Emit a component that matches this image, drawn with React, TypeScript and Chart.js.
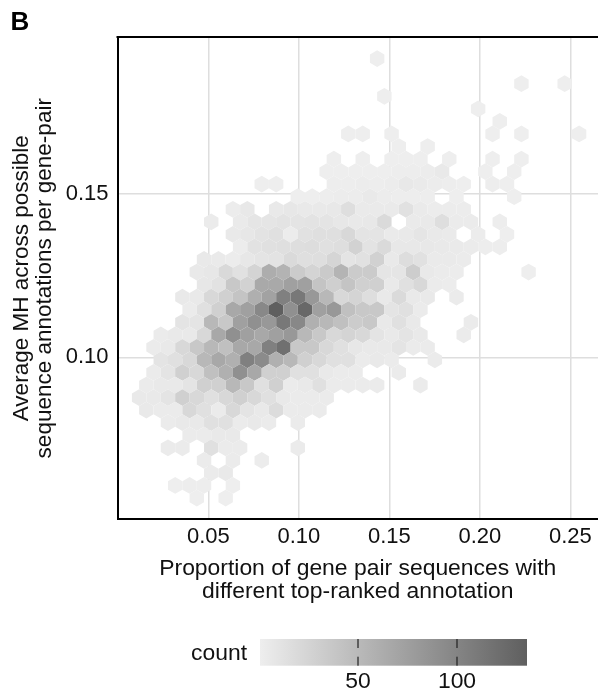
import React, { useEffect, useRef } from "react";
import { Chart, registerables, ScatterController, PointElement } from "chart.js";

// Hexbin rows, top to bottom. rowFirstCol = first hex column of the row, 0 = empty cell.
const rowFirstCol = [18, 0, 28, 18, 25, 26, 16, 19, 15, 14, 10, 12, 8, 6, 8, 8, 6, 5, 6, 4, 5, 4, 3, 2, 3, 2, 2, 1, 2, 3, 5, 3, 6, 6, 4, 5];
const rowCounts = [
  [1],
  [],
  [1, 0, 0, 1],
  [1],
  [1],
  [1],
  [1, 1, 0, 1, 0, 0, 0, 0, 0, 0, 1, 0, 1, 0, 0, 0, 1],
  [1, 0, 1],
  [1, 0, 1, 0, 1, 1, 1, 0, 1, 0, 0, 1, 0, 1],
  [1, 1, 1, 1, 1, 2, 2, 3, 6, 0, 0, 1, 0, 1],
  [1, 1, 0, 0, 0, 2, 2, 3, 2, 3, 7, 5, 3, 2, 1, 0, 2, 1],
  [1, 1, 2, 3, 3, 6, 3, 2, 2, 2, 0, 1, 0, 0, 0, 1],
  [3, 7, 0, 6, 8, 6, 6, 7, 16, 5, 5, 5, 13, 5, 3, 3, 3],
  [4, 0, 5, 9, 9, 11, 10, 11, 10, 8, 6, 7, 20, 0, 5, 6, 16, 4, 4, 0, 2],
  [6, 8, 11, 14, 3, 13, 15, 15, 22, 10, 10, 5, 6, 9, 6, 5, 0, 3, 0, 1],
  [3, 12, 14, 15, 16, 17, 14, 16, 27, 11, 20, 7, 7, 7, 6, 5, 4, 2, 2],
  [6, 5, 3, 8, 10, 11, 20, 15, 16, 24, 10, 13, 28, 6, 17, 13, 5, 5, 4],
  [6, 8, 21, 13, 25, 62, 56, 34, 25, 35, 55, 34, 34, 9, 9, 32, 6, 4, 3, 0, 0, 0, 0, 1],
  [8, 12, 37, 27, 66, 66, 74, 74, 40, 30, 40, 29, 29, 6, 14, 22, 4, 3],
  [6, 6, 22, 29, 40, 60, 72, 104, 112, 82, 52, 22, 25, 16, 6, 20, 6, 6, 0, 4],
  [4, 14, 29, 67, 74, 97, 135, 89, 127, 74, 82, 44, 37, 37, 10, 14, 4],
  [10, 10, 52, 37, 74, 89, 82, 112, 97, 59, 52, 44, 33, 37, 6, 14, 6, 0, 0, 0, 4],
  [4, 6, 6, 22, 67, 89, 74, 67, 74, 82, 52, 37, 22, 25, 22, 10, 6, 10, 6, 0, 0, 4],
  [4, 6, 22, 37, 52, 44, 67, 67, 104, 119, 37, 37, 22, 14, 8, 6, 6, 10, 4, 4],
  [10, 14, 22, 52, 67, 59, 104, 94, 59, 52, 29, 22, 14, 14, 4, 6, 4, 0, 0, 4],
  [4, 10, 29, 22, 44, 59, 89, 67, 29, 29, 14, 14, 6, 4, 4, 0, 0, 4],
  [4, 6, 6, 10, 29, 29, 52, 37, 14, 29, 4, 6, 14, 4, 4, 4, 4, 0, 0, 4],
  [6, 6, 10, 29, 22, 14, 22, 29, 22, 14, 6, 4, 4, 4],
  [6, 4, 4, 22, 14, 4, 22, 10, 6, 18, 4, 4, 4],
  [4, 6, 6, 14, 14, 4, 6, 4, 0, 4],
  [4, 4, 6, 6],
  [4, 4, 0, 14, 4, 4, 0, 0, 0, 4],
  [4, 0, 4, 0, 3],
  [4, 6],
  [1, 2, 2, 0, 1],
  [1, 0, 1],
];

const hexOriginX = -0.00018;
const hexStepX = 0.00797;
const hexOriginY = 0.19143;
const hexStepY = 0.003843;

const xTicks = [0.05, 0.1, 0.15, 0.2, 0.25];
const yTicks = [0.1, 0.15];
const xTitle = ["Proportion of gene pair sequences with", "different top-ranked annotation"];
const yTitle = ["Average MH across possible", "sequence annotations per gene-pair"];
const panelLabel = "B";
const legendTitle = "count";
const legendTicks = [50, 100];
const countMin = 1;
const countMax = 135;
const lowGray = 238;
const highGray = 95;

const FONT = '"Liberation Sans", Arial, sans-serif';
const INK = "#111";

const grayFor = (c: number) => {
  const g = Math.round(lowGray + ((c - countMin) / (countMax - countMin)) * (highGray - lowGray));
  return `rgb(${g},${g},${g})`;
};

const points: { x: number; y: number; count: number }[] = [];
rowCounts.forEach((row, r) => {
  row.forEach((count, i) => {
    if (!count) return;
    const col = rowFirstCol[r] + i + (r % 2 ? 0.5 : 0);
    points.push({ x: hexOriginX + col * hexStepX, y: hexOriginY - r * hexStepY, count });
  });
});

class HexPoint extends PointElement {
  static id = "hexPoint";
  static defaults = { ...PointElement.defaults, halfW: 7, radiusY: 8 };
  draw(ctx: CanvasRenderingContext2D) {
    const o: any = this.options;
    const { x, y } = this as any;
    ctx.save();
    ctx.fillStyle = o.backgroundColor;
    ctx.beginPath();
    ctx.moveTo(x, y - o.radiusY);
    ctx.lineTo(x + o.halfW, y - o.radiusY / 2);
    ctx.lineTo(x + o.halfW, y + o.radiusY / 2);
    ctx.lineTo(x, y + o.radiusY);
    ctx.lineTo(x - o.halfW, y + o.radiusY / 2);
    ctx.lineTo(x - o.halfW, y - o.radiusY / 2);
    ctx.closePath();
    ctx.fill();
    ctx.restore();
  }
}

class HexController extends ScatterController {
  static id = "hexScatter";
  static defaults = { ...ScatterController.defaults, dataElementType: "hexPoint" };
}

Chart.register(...registerables, HexPoint, HexController);

const decorations = {
  id: "decorations",
  afterDraw(chart: any) {
    const { ctx, chartArea } = chart;
    ctx.save();
    // top frame line
    ctx.fillStyle = "#000";
    ctx.fillRect(chartArea.left - 1, chartArea.top - 1.5, chartArea.right - chartArea.left + 1, 2);
    // panel label
    ctx.font = `bold 26px ${FONT}`;
    ctx.textAlign = "left";
    ctx.textBaseline = "alphabetic";
    ctx.fillText(panelLabel, 10.5, 30);
    // colour bar
    const barL = 260;
    const barR = 527;
    const barT = 639;
    const barB = 665.7;
    const pxPerCount = (457 - 358) / (legendTicks[1] - legendTicks[0]);
    const countToX = (c: number) => 358 + (c - legendTicks[0]) * pxPerCount;
    const grad = ctx.createLinearGradient(barL, 0, barR, 0);
    grad.addColorStop(0, grayFor(countMin));
    grad.addColorStop(1, grayFor(countMax));
    ctx.fillStyle = grad;
    ctx.fillRect(barL, barT, barR - barL, barB - barT);
    ctx.font = `22.9px ${FONT}`;
    ctx.textAlign = "center";
    legendTicks.forEach((t) => {
      const x = countToX(t);
      ctx.fillStyle = "#222";
      ctx.fillRect(x - 0.6, barT, 1.2, 9);
      ctx.fillRect(x - 0.6, barB - 9, 1.2, 9);
      ctx.fillStyle = INK;
      ctx.fillText(String(t), x, 688);
    });
    ctx.textAlign = "right";
    ctx.fillText(legendTitle, 247, 660);
    ctx.restore();
  },
};

export default function App() {
  const ref = useRef<HTMLCanvasElement>(null);
  useEffect(() => {
    const chart = new Chart(ref.current as HTMLCanvasElement, {
      type: "hexScatter" as any,
      plugins: [decorations],
      data: {
        datasets: [
          {
            data: points,
            backgroundColor: (c: any) => grayFor(c.raw ? c.raw.count : countMin),
            halfW: (c: any) => {
              const s = c.chart.scales.x;
              return Math.abs(s.getPixelForValue(hexStepX) - s.getPixelForValue(0)) / 2;
            },
            radiusY: (c: any) => {
              const s = c.chart.scales.y;
              return (Math.abs(s.getPixelForValue(hexStepY) - s.getPixelForValue(0)) * 2) / 3;
            },
          } as any,
        ],
      },
      options: {
        responsive: false,
        animation: false,
        layout: { autoPadding: false, padding: { top: 37.5, left: 0, right: 0, bottom: 0 } },
        plugins: { legend: { display: false }, tooltip: { enabled: false } },
        scales: {
          x: {
            type: "linear",
            min: -0.00017,
            max: 0.2653,
            afterBuildTicks: (s: any) => {
              s.ticks = xTicks.map((value) => ({ value }));
            },
            afterFit: (s: any) => {
              s.height = 174;
            },
            border: { color: "#000", width: 2, display: true },
            grid: { color: "#dedede", lineWidth: 1.5, drawTicks: false },
            ticks: {
              color: INK,
              padding: 5,
              maxRotation: 0,
              autoSkip: false,
              font: { family: FONT, size: 22 },
              callback: (v: any) => Number(v).toFixed(2),
            },
            title: {
              display: true,
              text: xTitle,
              color: INK,
              font: { family: FONT, size: 22.9, lineHeight: 1.0 },
              padding: { top: 0, bottom: 90 },
            },
          },
          y: {
            type: "linear",
            min: 0.0505,
            max: 0.1979,
            afterBuildTicks: (s: any) => {
              s.ticks = yTicks.map((value) => ({ value }));
            },
            afterFit: (s: any) => {
              s.width = 117.5;
            },
            border: { color: "#000", width: 2, display: true },
            grid: { color: "#dedede", lineWidth: 1.5, drawTicks: false },
            ticks: {
              color: INK,
              padding: 9,
              autoSkip: false,
              font: { family: FONT, size: 22 },
              callback: (v: any) => Number(v).toFixed(2),
            },
            title: {
              display: true,
              text: yTitle,
              color: INK,
              font: { family: FONT, size: 22.5, lineHeight: 1.0 },
              padding: { top: 11, bottom: 0 },
            },
          },
        },
      },
    } as any);
    return () => chart.destroy();
  }, []);
  return (
    <canvas
      ref={ref}
      width={598}
      height={693}
      style={{ position: "fixed", left: 0, top: 0, width: 598, height: 693, display: "block" }}
    />
  );
}
